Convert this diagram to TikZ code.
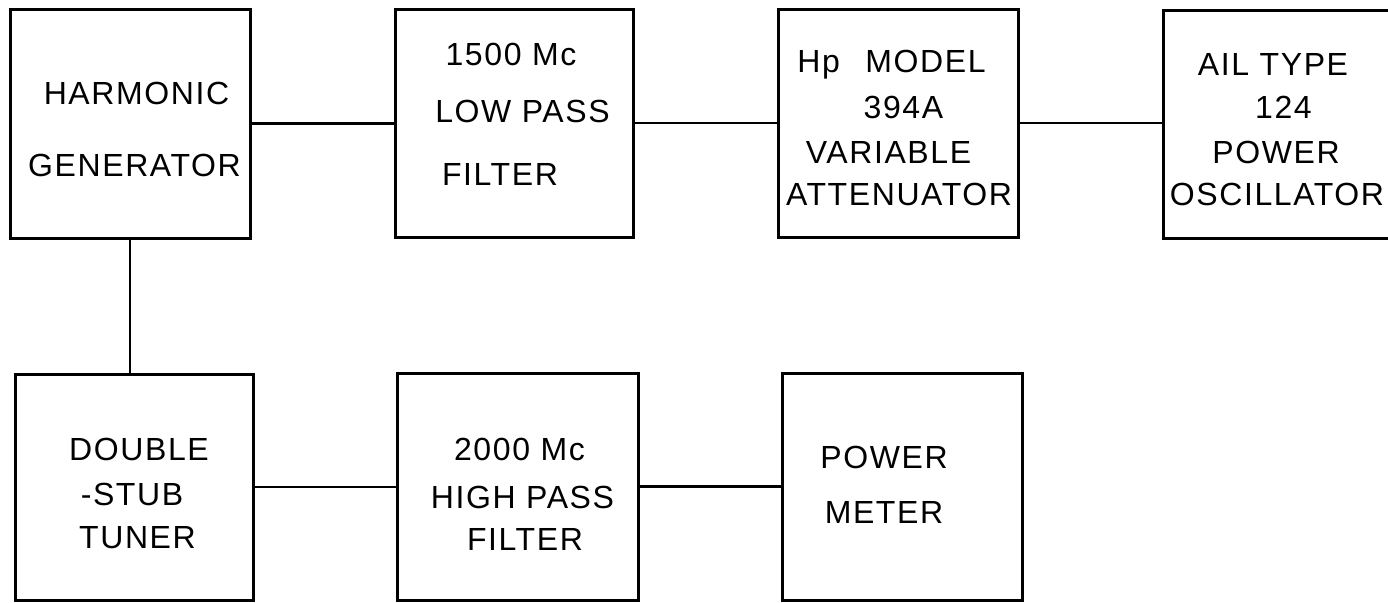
\documentclass[tikz,border=0pt]{standalone}
\usepackage{fontspec}
\setmainfont{Liberation Sans}[LetterSpace=5]
\tikzset{
  box/.style={draw, line width=1.5pt, inner sep=0pt, outer sep=0pt},
  wire/.style={line width=1.2pt},
  lbl/.style={inner sep=0pt, anchor=base, font=\fontsize{16}{18}\selectfont}
}
\newcommand\blk[5]{\node[box, minimum width={(#4-#2)*0.5pt}, minimum height={(#5-#3)*0.5pt}] (#1) at ({(#2+#4)/2},{(#3+#5)/2}) {};}
\begin{document}
\begin{tikzpicture}[x=0.5pt, y=-0.5pt]
\useasboundingbox (0,0) rectangle (1388,602);
\clip (0,0) rectangle (1388,602);
% boxes
\blk{hg}{10}{9}{250}{238}
\blk{lp}{395}{9}{633}{237}
\blk{hp}{778}{9}{1018}{237}
\blk{ail}{1163}{10}{1400}{238}
\blk{ds}{15}{374}{253}{600}
\blk{hpf}{397}{373}{638}{600}
\blk{pm}{782}{373}{1022}{600}
% labels
\node[lbl] (hg1) at (136.5,104) {HARMONIC};
\node[lbl] (hg2) at (134.5,176) {GENERATOR};
\node[lbl] (lp1) at (511,65) {1500 Mc};
\node[lbl] (lp2) at (522.5,122) {LOW PASS};
\node[lbl] (lp3) at (500,185) {FILTER};
\node[lbl] (hp1) at (891.5,72) {Hp\hspace{0.8em}MODEL};
\node[lbl] (hp2) at (903.5,118) {394A};
\node[lbl] (hp3) at (888.5,163) {VARIABLE};
\node[lbl] (hp4) at (899,205) {ATTENUATOR};
\node[lbl] (ail1) at (1273,75) {AIL TYPE};
\node[lbl] (ail2) at (1283.5,118) {124};
\node[lbl] (ail3) at (1276,163) {POWER};
\node[lbl] (ail4) at (1277,205) {OSCILLATOR};
\node[lbl] (ds1) at (139,460) {DOUBLE};
\node[lbl] (ds2) at (132,505) {-STUB};
\node[lbl] (ds3) at (137.5,548) {TUNER};
\node[lbl] (hpf1) at (519.5,460) {2000 Mc};
\node[lbl] (hpf2) at (522.5,508) {HIGH PASS};
\node[lbl] (hpf3) at (525,550) {FILTER};
\node[lbl] (pm1) at (884,468) {POWER};
\node[lbl] (pm2) at (884,523) {METER};
% connectors
\draw[wire] (hg.east) -- (hg.east -| lp.west);
\draw[wire] (lp.east) -- (lp.east -| hp.west);
\draw[wire] (hp.east) -- (hp.east -| ail.west);
\draw[wire] (hg.south) -- (hg.south |- ds.north);
\draw[wire] (ds.east) -- (ds.east -| hpf.west);
\draw[wire] (hpf.east) -- (hpf.east -| pm.west);
\end{tikzpicture}
\end{document}
